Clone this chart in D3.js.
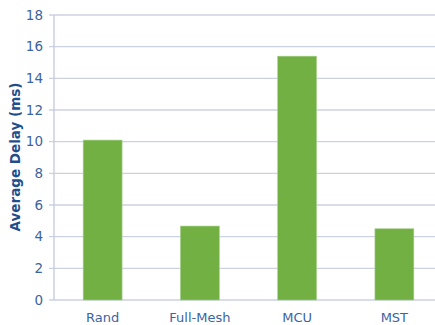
<!DOCTYPE html>
<html><head><meta charset="utf-8">
<script src="https://cdn.jsdelivr.net/npm/d3@7"></script>
<style>body{margin:0;background:#fff}svg{display:block}</style>
</head><body><svg id="c" width="435" height="325"></svg>
<script>
const categories = ["Rand", "Full-Mesh", "MCU", "MST"];
const values = [10.1, 4.67, 15.4, 4.5];
const yTicks = [0, 2, 4, 6, 8, 10, 12, 14, 16, 18];
const yLabel = "Average Delay (ms)";

const svg = d3.select("#c");
const x = d3.scaleBand().domain(categories).range([54, 443]).paddingInner(0.6).paddingOuter(0.3);
const y = d3.scaleLinear().domain([0, 18]).range([300, 15]);
const font = "Verdana, 'DejaVu Sans', sans-serif";

svg.append("g").selectAll("line").data(yTicks).join("line")
  .attr("x1", 49).attr("x2", 435)
  .attr("y1", d => y(d)).attr("y2", d => y(d))
  .attr("stroke", "#cdd2e3").attr("stroke-width", 1.3);

svg.append("line").attr("x1", 54).attr("x2", 54).attr("y1", 15).attr("y2", 300)
  .attr("stroke", "#c3c9dd").attr("stroke-width", 1.3);

svg.append("g").selectAll("text").data(yTicks).join("text")
  .attr("x", 43).attr("y", d => y(d)).attr("dy", "0.35em")
  .attr("text-anchor", "end").attr("font-family", font).attr("font-size", 13.5)
  .attr("fill", "#3d64a0").text(d => d);

svg.append("g").selectAll("rect").data(values).join("rect")
  .attr("x", (d, i) => x(categories[i])).attr("width", x.bandwidth())
  .attr("y", d => y(d)).attr("height", d => y(0) - y(d))
  .attr("fill", "#73b043").attr("stroke", "#a6d08a").attr("stroke-width", 0.6);

svg.append("g").selectAll("text").data(categories).join("text")
  .attr("x", d => x(d) + x.bandwidth() / 2).attr("y", 322)
  .attr("text-anchor", "middle").attr("font-family", font).attr("font-size", 13)
  .attr("fill", "#3d64a0").text(d => d);

svg.append("text").attr("transform", "translate(20,157) rotate(-90)")
  .attr("text-anchor", "middle").attr("font-family", font).attr("font-size", 13.5)
  .attr("font-weight", "bold").attr("fill", "#1f4e8c").text(yLabel);
</script></body></html>
